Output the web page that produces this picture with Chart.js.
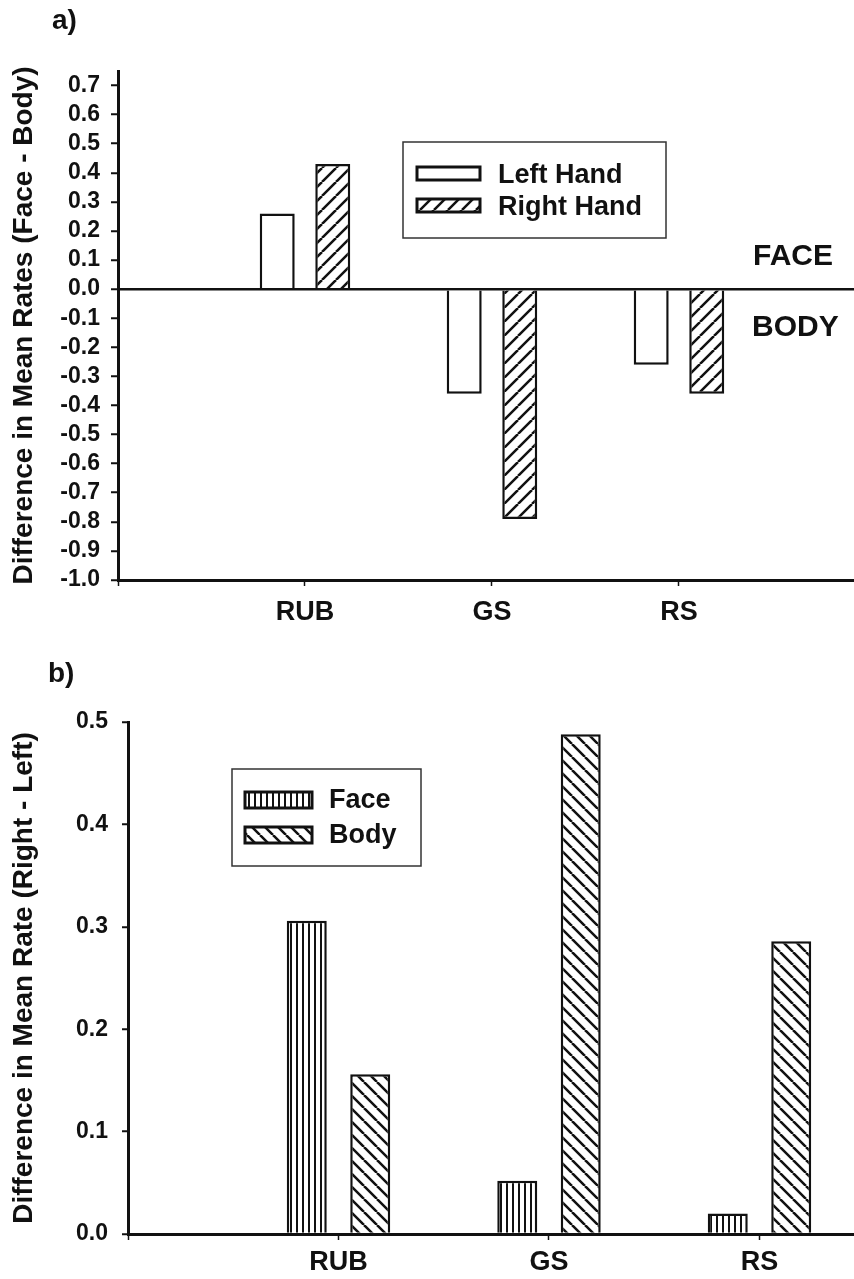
<!DOCTYPE html>
<html>
<head>
<meta charset="utf-8">
<script src="https://cdn.jsdelivr.net/npm/chart.js@4"></script>
<style>
    html, body { margin: 0; padding: 0; background: #fff; overflow: hidden; }
    .panel { position: absolute; left: 0; }
    #panelA { top: 0; }
    #panelB { top: 640px; }
</style>
</head>
<body>
<div class="panel" id="panelA"><canvas id="chartA" width="854" height="640"></canvas></div>
<div class="panel" id="panelB"><canvas id="chartB" width="854" height="639"></canvas></div>
<script>
// categories on the x axis (same for both panels)
var categories = ["RUB", "GS", "RS"];

// a) difference in mean rates, face - body
var leftHandValues = [0.26, -0.36, -0.26];
var rightHandValues = [0.43, -0.79, -0.36];
var yTicksA = [-1.0, -0.9, -0.8, -0.7, -0.6, -0.5, -0.4, -0.3, -0.2, -0.1, 0.0, 0.1, 0.2, 0.3, 0.4, 0.5, 0.6, 0.7];

// b) difference in mean rate, right - left
var faceValues = [0.306, 0.052, 0.02];
var bodyValues = [0.156, 0.488, 0.286];
var yTicksB = [0.0, 0.1, 0.2, 0.3, 0.4, 0.5];

// tick slots on the x axis: -1 is the empty slot at the y axis
var xSlots = [-1, 0, 1, 2];

var INK = "#111";
var FONT = "'Liberation Sans', Arial, Helvetica, sans-serif";
Chart.defaults.font.family = FONT;
Chart.defaults.color = INK;

// build a hatch pattern for the bar fills
function hatch(ctx, kind, size, width) {
    var c = document.createElement("canvas");
    c.width = size;
    c.height = size;
    var g = c.getContext("2d");
    g.fillStyle = "#fff";
    g.fillRect(0, 0, size, size);
    g.strokeStyle = INK;
    g.lineWidth = width;
    g.beginPath();
    if (kind === "vertical") {
        g.moveTo(size / 2, 0);
        g.lineTo(size / 2, size);
    } else {
        for (var k = -1; k <= 1; k++) {
            if (kind === "forward") {
                g.moveTo(k * size, size);
                g.lineTo(k * size + size, 0);
            } else {
                g.moveTo(k * size, 0);
                g.lineTo(k * size + size, size);
            }
        }
    }
    g.stroke();
    return ctx.createPattern(c, "repeat");
}

// legend box drawn inside the plot, with the same fills as the bars
var patternLegend = {
    id: "patternLegend",
    afterDraw: function (chart, args, opts) {
        var ctx = chart.ctx;
        ctx.save();
        ctx.lineWidth = 1.5;
        ctx.strokeStyle = "#333";
        ctx.strokeRect(opts.box[0], opts.box[1], opts.box[2], opts.box[3]);
        ctx.font = "bold " + opts.fontSize + "px " + FONT;
        ctx.textBaseline = "alphabetic";
        chart.data.datasets.forEach(function (ds, i) {
            var y = opts.rowY[i];
            ctx.fillStyle = ds.backgroundColor;
            ctx.fillRect(opts.swatchX, y, opts.swatchW, opts.swatchH);
            ctx.lineWidth = 3;
            ctx.strokeStyle = INK;
            ctx.strokeRect(opts.swatchX, y, opts.swatchW, opts.swatchH);
            ctx.fillStyle = INK;
            ctx.fillText(ds.label, opts.textX, y + opts.textDy);
        });
        ctx.restore();
    }
};

// panel letter and the FACE / BODY side notes
var panelText = {
    id: "panelText",
    afterDraw: function (chart, args, opts) {
        var ctx = chart.ctx;
        ctx.save();
        ctx.fillStyle = INK;
        ctx.textBaseline = "alphabetic";
        ctx.font = "bold 28px " + FONT;
        ctx.fillText(opts.letter, opts.letterX, opts.letterY);
        if (opts.sides) {
            var zero = chart.scales.y.getPixelForValue(0);
            ctx.font = "bold 30px " + FONT;
            opts.sides.forEach(function (s) {
                ctx.fillText(s.text, s.x, zero + s.dy);
            });
        }
        ctx.restore();
    }
};

function toPoints(values) {
    return values.map(function (v, i) { return { x: i, y: v }; });
}

function xAxis(max, height, pad) {
    return {
        type: "linear",
        offset: false,
        min: -1,
        max: max,
        afterBuildTicks: function (s) {
            s.ticks = xSlots.map(function (v) { return { value: v }; });
        },
        afterFit: function (s) { s.height = height; },
        border: { color: INK, width: 3 },
        grid: { offset: false, drawOnChartArea: false, tickLength: 6, tickColor: INK, tickWidth: 1.5 },
        ticks: {
            autoSkip: false,
            maxRotation: 0,
            padding: pad,
            color: INK,
            font: { size: 27, weight: "bold" },
            callback: function (v) { return categories[v] || ""; }
        }
    };
}

function yAxis(min, max, tickList, width, tickLen, pad, title, zeroLine) {
    return {
        min: min,
        max: max,
        afterBuildTicks: function (s) {
            s.ticks = tickList.map(function (v) { return { value: v }; });
        },
        afterFit: function (s) { s.width = width; },
        border: { color: INK, width: 3 },
        grid: {
            drawOnChartArea: zeroLine,
            color: function (c) { return c.tick && c.tick.value === 0 ? INK : "rgba(0,0,0,0)"; },
            lineWidth: 2.5,
            tickLength: tickLen,
            tickColor: INK,
            tickWidth: 2
        },
        ticks: {
            autoSkip: false,
            padding: pad,
            color: INK,
            font: { size: 23, weight: "bold" },
            callback: function (v) { return v.toFixed(1); }
        },
        title: {
            display: true,
            text: title,
            color: INK,
            font: { size: 28, weight: "bold" },
            padding: { top: 7, bottom: 0 }
        }
    };
}

// ---- a) ----
var ctxA = document.getElementById("chartA").getContext("2d");
new Chart(ctxA, {
    type: "bar",
    data: {
        datasets: [
            {
                label: "Left Hand",
                data: toPoints(leftHandValues),
                backgroundColor: "#fff",
                borderColor: INK,
                borderWidth: 2.5,
                categoryPercentage: 0.594,
                barPercentage: 0.63
            },
            {
                label: "Right Hand",
                data: toPoints(rightHandValues),
                backgroundColor: hatch(ctxA, "forward", 14, 2.5),
                borderColor: INK,
                borderWidth: 2.5,
                categoryPercentage: 0.594,
                barPercentage: 0.63
            }
        ]
    },
    options: {
        responsive: false,
        animation: false,
        layout: { padding: { top: 71, left: 0, right: 0, bottom: 0 } },
        scales: {
            x: xAxis(2.936, 60, 10),
            y: yAxis(-1, 0.75, yTicksA, 118, 7, 11, "Difference in Mean Rates (Face - Body)", true)
        },
        plugins: {
            legend: { display: false },
            tooltip: { enabled: false },
            patternLegend: {
                box: [403, 142, 263, 96],
                swatchX: 417, swatchW: 63, swatchH: 13,
                rowY: [167, 199],
                textX: 498, textDy: 16, fontSize: 27
            },
            panelText: {
                letter: "a)", letterX: 52, letterY: 29,
                sides: [
                    { text: "FACE", x: 753, dy: -24 },
                    { text: "BODY", x: 752, dy: 47 }
                ]
            }
        }
    },
    plugins: [patternLegend, panelText]
});

// ---- b) ----
var ctxB = document.getElementById("chartB").getContext("2d");
new Chart(ctxB, {
    type: "bar",
    data: {
        datasets: [
            {
                label: "Face",
                data: toPoints(faceValues),
                backgroundColor: hatch(ctxB, "vertical", 6, 2),
                borderColor: INK,
                borderWidth: 2.5,
                categoryPercentage: 0.603,
                barPercentage: 0.63
            },
            {
                label: "Body",
                data: toPoints(bodyValues),
                backgroundColor: hatch(ctxB, "back", 13, 2.5),
                borderColor: INK,
                borderWidth: 2.5,
                categoryPercentage: 0.603,
                barPercentage: 0.63
            }
        ]
    },
    options: {
        responsive: false,
        animation: false,
        layout: { padding: { top: 82, left: 0, right: 0, bottom: 0 } },
        scales: {
            x: xAxis(2.449, 45, 6),
            y: yAxis(0, 0.5, yTicksB, 128, 6, 14, "Difference in Mean Rate (Right - Left)", false)
        },
        plugins: {
            legend: { display: false },
            tooltip: { enabled: false },
            patternLegend: {
                box: [232, 129, 189, 97],
                swatchX: 245, swatchW: 67, swatchH: 16,
                rowY: [152, 187],
                textX: 329, textDy: 16, fontSize: 27
            },
            panelText: { letter: "b)", letterX: 48, letterY: 42 }
        }
    },
    plugins: [patternLegend, panelText]
});
</script>
</body>
</html>
